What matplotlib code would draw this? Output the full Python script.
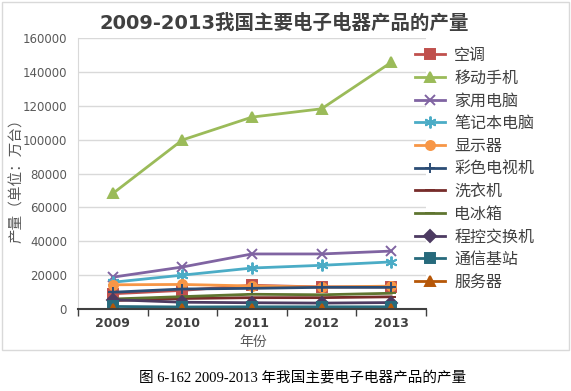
import matplotlib.pyplot as plt
from matplotlib.patches import Rectangle

plt.rcParams['font.family'] = ['DejaVu Sans', 'Noto Sans CJK SC']

years = ['2009', '2010', '2011', '2012', '2013']
names = ['空调', '移动手机', '家用电脑', '笔记本电脑', '显示器', '彩色电视机',
         '洗衣机', '电冰箱', '程控交换机', '通信基站', '服务器']

air_con = [9000, 11000, 14000, 13000, 13000]
mobile = [68200, 99800, 113300, 118200, 145600]
desktop = [18800, 24800, 32500, 32500, 34200]
laptop = [15800, 20000, 24200, 25800, 27800]
monitor = [14300, 14500, 13600, 13000, 13500]
color_tv = [9900, 11800, 12200, 12800, 12800]
washer = [5000, 6200, 6700, 6700, 7200]
fridge = [5900, 7300, 8700, 8400, 9300]
switch = [5500, 4000, 3700, 3500, 3800]
base_station = [1500, 1200, 1300, 1300, 1300]
server = [200, 200, 200, 200, 200]

series = [air_con, mobile, desktop, laptop, monitor, color_tv,
          washer, fridge, switch, base_station, server]
colors = ['#C0504D', '#9BBB59', '#8064A2', '#4BACC6', '#F79646', '#2C4D75',
          '#772C2A', '#5F7530', '#4D3B62', '#276A7C', '#B65708']
markers = ['s', '^', 'x', '*', 'o', '+', '_', '_', 'D', 's', '^']

fig = plt.figure(figsize=(5.71, 3.91), dpi=100)
fig.patches.append(Rectangle((2 / 571, 41 / 391), 567 / 571, 348 / 391,
                             transform=fig.transFigure, fill=False,
                             edgecolor='#D9D9D9', lw=1))
ax = fig.add_axes([0.1366, 0.2097, 0.6094, 0.6931])

x = list(range(len(years)))
for vals, name, c, m in zip(series, names, colors, markers):
    ms = 6.5
    if m == '*':
        m = (6, 2, 0)
        ms = 8.5
    ax.plot(x, vals, color=c, lw=2, marker=m, ms=ms, mew=1.4, label=name)

ax.set_xlim(-0.5, 4.5)
ax.set_ylim(0, 160000)
ax.set_yticks(range(0, 160001, 20000))
ax.grid(axis='y', color='#D9D9D9', lw=1)
ax.set_axisbelow(True)
ax.set_xticks(x)
ax.set_xticklabels(years, fontweight='bold', fontsize=9, color='#404040')
ax.set_xticks([i - 0.5 for i in range(6)], minor=True)
ax.tick_params(axis='x', which='major', length=0, pad=6)
ax.tick_params(axis='x', which='minor', length=5, width=1, color='#404040')
ax.tick_params(axis='y', length=0, labelsize=8.5, labelcolor='#595959', pad=8)
for s in ['top', 'right']:
    ax.spines[s].set_visible(False)
ax.spines['left'].set_color('#D9D9D9')
ax.spines['bottom'].set_color('#404040')
ax.spines['bottom'].set_linewidth(1.5)

ax.set_xlabel('年份', fontsize=10, color='#595959')
ax.xaxis.set_label_coords(0.503, -0.096)
ax.set_ylabel('产量（单位：万台）', fontsize=10.5, color='#595959')
ax.yaxis.set_label_coords(-0.155, 0.487)

fig.text(0.497, 0.94, '2009-2013我国主要电子电器产品的产量', ha='center',
         va='center', fontsize=14, fontweight='bold', color='#404040')

ax.legend(loc='upper left', bbox_to_anchor=(415 / 571, 1 - 48 / 391),
          bbox_transform=fig.transFigure, frameon=False, fontsize=11.5,
          handlelength=1.85, labelspacing=0.48, borderpad=0, borderaxespad=0,
          handletextpad=0.6, labelcolor='#404040')

fig.text(0.53, 1 - 378 / 391, '图 6-162 2009-2013 年我国主要电子电器产品的产量',
         ha='center', va='center', fontsize=10.5,
         family=['Liberation Serif', 'Noto Sans CJK SC'])

fig.savefig('out.png', dpi=100)
